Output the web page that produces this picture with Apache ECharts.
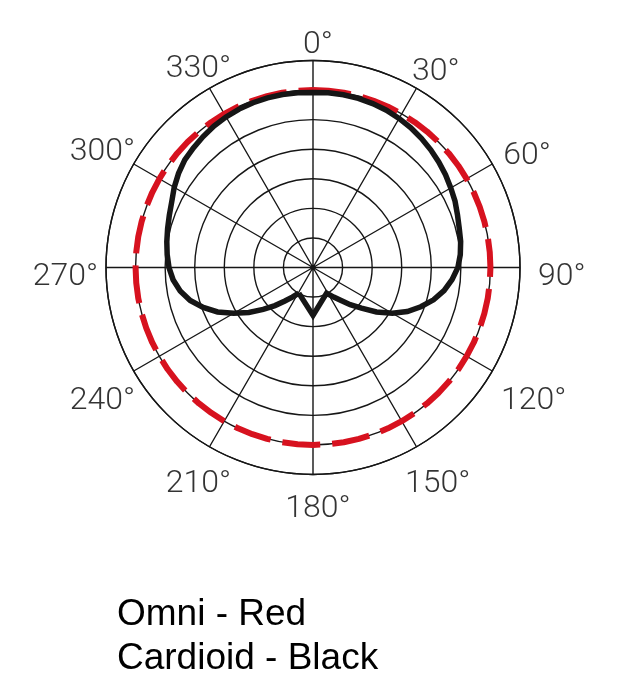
<!DOCTYPE html>
<html><head><meta charset="utf-8">
<script src="https://cdn.jsdelivr.net/npm/echarts@6/dist/echarts.min.js"></script>
<style>html,body{margin:0;padding:0;background:#fff}#c{width:628px;height:693px}</style>
</head><body><div id="c"></div>
<script>
// ---- data ----
const tickAngles = [0, 30, 60, 90, 120, 150, 180, 210, 240, 270, 300, 330];
const tickLabels = ['0°', '30°', '60°', '90°', '120°', '150°', '180°', '210°', '240°', '270°', '300°', '330°'];

const omniAngles = [0,5,10,15,20,25,30,35,40,45,50,55,60,65,70,75,80,85,90,95,100,105,110,115,120,125,130,135,140,145,150,155,160,165,170,175,180,185,190,195,200,205,210,215,220,225,230,235,240,245,250,255,260,265,270,275,280,285,290,295,300,305,310,315,320,325,330,335,340,345,350,355,360];
const omniR = [6,6,6,6,6,6,6,6,6,6,6,6,6,6,6,6,6,6,6,6,6,6,6,6,6,6,6,6,6,6,6,6,6,6,6,6,6,6,6,6,6,6,6,6,6,6,6,6,6,6,6,6,6,6,6,6,6,6,6,6,6,6,6,6,6,6,6,6,6,6,6,6,6];

const cardioidAngles = [209,180,152,145,140,135,130,125,120,115,110,105,100,95,90,85,80,75,70,65,60,55,50,45,40,35,30,25,20,15,10,5,0,355,350,345,340,335,330,325,320,315,310,305,300,295,290,285,280,275,270,265,260,255,250,245,240,235,230,225,220,215,209];
const cardioidR = [0.99,1.62,0.98,1.22,1.45,1.78,2.14,2.62,3.10,3.52,3.88,4.22,4.50,4.72,4.90,5.00,5.07,5.12,5.20,5.30,5.38,5.47,5.55,5.63,5.70,5.77,5.82,5.87,5.90,5.92,5.93,5.93,5.92,5.93,5.94,5.94,5.93,5.91,5.88,5.84,5.78,5.72,5.66,5.55,5.42,5.27,5.17,5.09,5.02,4.95,4.87,4.75,4.56,4.30,3.95,3.56,3.10,2.65,2.20,1.82,1.48,1.22,0.99];

const legendLines = ['Omni - Red', 'Cardioid - Black'];

// ---- layout ----
const CX = 313, CY = 267.5, RPX = 207, RMAX = 7;
const unit = RPX / RMAX;
const labelFont = '300 32px Roboto';
const mctx = document.createElement('canvas').getContext('2d');
mctx.font = labelFont;
const labelData = tickAngles.map((a, i) => {
  const hw = mctx.measureText(tickLabels[i]).width / 2;
  const hh = 12;
  const t = a * Math.PI / 180;
  const r = RPX + 13 + Math.hypot(hw * Math.sin(t), hh * Math.cos(t));
  return [r / unit, a];
});

const gridColor = '#161616';
const chart = echarts.init(document.getElementById('c'), null, {renderer: 'canvas'});
chart.setOption({
  animation: false,
  backgroundColor: '#fff',
  polar: {center: [CX, CY], radius: RPX},
  angleAxis: {
    type: 'value', min: 0, max: 360, interval: 30, startAngle: 90, clockwise: true,
    axisLine: {show: true, lineStyle: {color: gridColor, width: 1.4}},
    axisTick: {show: false},
    axisLabel: {show: false},
    splitLine: {show: true, lineStyle: {color: gridColor, width: 1.4}}
  },
  radiusAxis: {
    type: 'value', min: 0, max: RMAX, interval: 1,
    axisLine: {show: false}, axisTick: {show: false}, axisLabel: {show: false},
    splitLine: {show: true, lineStyle: {color: gridColor, width: 1.4}}
  },
  series: [
    {
      type: 'line', coordinateSystem: 'polar', symbol: 'none', smooth: false,
      data: omniAngles.map((a, i) => [omniR[i], a]),
      lineStyle: {color: '#d7121f', width: 6, type: [38, 12]},
      z: 3
    },
    {
      type: 'line', coordinateSystem: 'polar', symbol: 'none', smooth: false,
      data: cardioidAngles.map((a, i) => [cardioidR[i], a]),
      lineStyle: {color: '#161616', width: 5.5, join: 'miter'},
      z: 4
    },
    {
      type: 'scatter', coordinateSystem: 'polar', symbolSize: 1, clip: false,
      itemStyle: {color: 'rgba(0,0,0,0)'},
      data: labelData,
      label: {
        show: true, position: 'inside', offset: [5, 9],
        formatter: p => tickLabels[p.dataIndex],
        fontFamily: 'Roboto', fontWeight: 300, fontSize: 32, color: '#000',
        textBorderWidth: 0
      },
      silent: true, z: 5
    }
  ],
  graphic: legendLines.map((t, i) => ({
    type: 'text', left: 117, top: 596 + i * 44,
    style: {text: t, font: '37px "Liberation Sans", Arial, sans-serif', fill: '#000'}
  }))
});
</script></body></html>
